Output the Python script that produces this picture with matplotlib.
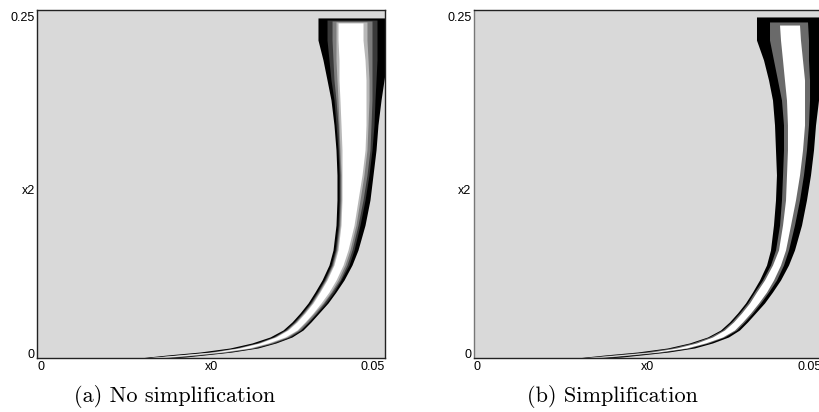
import matplotlib
matplotlib.use("Agg")
import matplotlib.pyplot as plt

# shared y levels (data units, top -> bottom)
Y_LEVELS = [0.2443, 0.2284, 0.2141, 0.1997, 0.1853, 0.1674, 0.1494, 0.1315, 0.1135, 0.0955, 0.0776, 0.0668, 0.0560,
            0.0474, 0.0395, 0.0323, 0.0259, 0.0201, 0.0151, 0.0108, 0.0072, 0.0043, 0.0022, 0.0007, 0.0]

# (a) no simplification: left / right x0 edge of each shaded layer at Y_LEVELS
A_BLACK_L = [0.04037, 0.04037, 0.04109, 0.04167, 0.04224, 0.04267, 0.04296, 0.04310, 0.04310, 0.04296, 0.04253, 0.04195, 0.04095,
             0.03994, 0.03894, 0.03779, 0.03664, 0.03534, 0.03348, 0.03089, 0.02773, 0.02342, 0.01882, 0.01595, 0.01480]
A_DGRAY_L = [0.04167, 0.04167, 0.04195, 0.04224, 0.04267, 0.04296, 0.04325, 0.04339, 0.04339, 0.04325, 0.04282, 0.04224, 0.04124,
             0.04023, 0.03922, 0.03807, 0.03693, 0.03563, 0.03391, 0.03147, 0.02845, 0.02457, 0.01983, 0.01652, 0.01509]
A_GRAY_L = [0.04239, 0.04239, 0.04253, 0.04267, 0.04296, 0.04325, 0.04339, 0.04353, 0.04353, 0.04339, 0.04296, 0.04239, 0.04138,
            0.04037, 0.03937, 0.03822, 0.03707, 0.03578, 0.03405, 0.03175, 0.02874, 0.02500, 0.02026, 0.01681, 0.01523]
A_LGRAY_L = [0.04296, 0.04296, 0.04296, 0.04310, 0.04325, 0.04339, 0.04353, 0.04368, 0.04368, 0.04353, 0.04310, 0.04253, 0.04152,
             0.04052, 0.03951, 0.03836, 0.03721, 0.03592, 0.03420, 0.03190, 0.02888, 0.02529, 0.02055, 0.01710, 0.01537]
A_WHITE_L = [0.04325, 0.04325, 0.04339, 0.04339, 0.04353, 0.04368, 0.04382, 0.04382, 0.04382, 0.04368, 0.04325, 0.04267, 0.04167,
             0.04066, 0.03966, 0.03851, 0.03736, 0.03606, 0.03434, 0.03204, 0.02917, 0.02557, 0.02083, 0.01739, 0.01552]
A_WHITE_R = [0.04684, 0.04684, 0.04713, 0.04727, 0.04727, 0.04727, 0.04713, 0.04670, 0.04612, 0.04555, 0.04468, 0.04397, 0.04296,
             0.04195, 0.04080, 0.03966, 0.03851, 0.03736, 0.03563, 0.03319, 0.03046, 0.02629, 0.02198, 0.01853, 0.01624]
A_LGRAY_R = [0.04741, 0.04741, 0.04756, 0.04770, 0.04770, 0.04756, 0.04741, 0.04698, 0.04641, 0.04583, 0.04497, 0.04425, 0.04325,
             0.04224, 0.04109, 0.03980, 0.03865, 0.03750, 0.03592, 0.03348, 0.03075, 0.02672, 0.02256, 0.01911, 0.01681]
A_GRAY_R = [0.04813, 0.04813, 0.04813, 0.04813, 0.04813, 0.04799, 0.04784, 0.04741, 0.04684, 0.04612, 0.04526, 0.04454, 0.04353,
            0.04239, 0.04124, 0.04009, 0.03894, 0.03779, 0.03606, 0.03376, 0.03103, 0.02716, 0.02299, 0.01968, 0.01739]
A_DGRAY_R = [0.04885, 0.04885, 0.04885, 0.04871, 0.04856, 0.04842, 0.04813, 0.04770, 0.04713, 0.04641, 0.04555, 0.04483, 0.04368,
             0.04267, 0.04152, 0.04023, 0.03908, 0.03793, 0.03635, 0.03405, 0.03132, 0.02759, 0.02356, 0.02026, 0.01796]
A_BLACK_R = [0.05043, 0.05043, 0.05029, 0.04986, 0.04943, 0.04899, 0.04871, 0.04828, 0.04784, 0.04713, 0.04612, 0.04526, 0.04411,
             0.04296, 0.04181, 0.04052, 0.03937, 0.03822, 0.03664, 0.03434, 0.03175, 0.02802, 0.02414, 0.02126, 0.01911]
A_TOPS = [0.2443, 0.2428, 0.2421, 0.2414, 0.2407]

# (b) simplification
B_BLACK_L = [0.04066, 0.04066, 0.04167, 0.04239, 0.04296, 0.04325, 0.04339, 0.04353, 0.04339, 0.04310, 0.04267, 0.04210, 0.04109,
             0.04009, 0.03908, 0.03793, 0.03678, 0.03549, 0.03362, 0.03103, 0.02787, 0.02356, 0.01897, 0.01609, 0.01494]
B_GRAY_L = [0.04253, 0.04253, 0.04310, 0.04368, 0.04425, 0.04454, 0.04454, 0.04440, 0.04425, 0.04397, 0.04339, 0.04267, 0.04152,
            0.04037, 0.03937, 0.03822, 0.03707, 0.03578, 0.03391, 0.03147, 0.02845, 0.02457, 0.01983, 0.01652, 0.01509]
B_WHITE_L = [0.04397, 0.04411, 0.04440, 0.04468, 0.04497, 0.04511, 0.04511, 0.04497, 0.04483, 0.04440, 0.04382, 0.04296, 0.04181,
             0.04066, 0.03966, 0.03851, 0.03736, 0.03606, 0.03434, 0.03204, 0.02917, 0.02557, 0.02083, 0.01739, 0.01552]
B_WHITE_R = [0.04684, 0.04698, 0.04727, 0.04756, 0.04756, 0.04756, 0.04727, 0.04684, 0.04626, 0.04555, 0.04483, 0.04411, 0.04310,
             0.04210, 0.04095, 0.03980, 0.03865, 0.03750, 0.03578, 0.03333, 0.03060, 0.02644, 0.02213, 0.01868, 0.01638]
B_GRAY_R = [0.04799, 0.04813, 0.04813, 0.04828, 0.04828, 0.04813, 0.04784, 0.04741, 0.04684, 0.04612, 0.04526, 0.04454, 0.04353,
            0.04239, 0.04124, 0.04009, 0.03894, 0.03779, 0.03606, 0.03376, 0.03103, 0.02716, 0.02299, 0.01968, 0.01739]
B_BLACK_R = [0.05014, 0.05014, 0.05000, 0.04986, 0.04957, 0.04914, 0.04885, 0.04842, 0.04784, 0.04713, 0.04612, 0.04526, 0.04411,
             0.04296, 0.04181, 0.04052, 0.03937, 0.03822, 0.03664, 0.03434, 0.03175, 0.02802, 0.02414, 0.02126, 0.01911]
B_TOPS = [0.2450, 0.2414, 0.2392]

X_TICK_LABELS = ["0", "0.05"]
Y_TICK_LABELS = ["0", "0.25"]
CAPTIONS = ["(a) No simplification", "(b) Simplification"]

A_LAYERS = [(A_BLACK_L, A_BLACK_R, "#000000"), (A_DGRAY_L, A_DGRAY_R, "#3a3a3a"),
            (A_GRAY_L, A_GRAY_R, "#7c7c7c"), (A_LGRAY_L, A_LGRAY_R, "#b8b8b8"),
            (A_WHITE_L, A_WHITE_R, "#ffffff")]
B_LAYERS = [(B_BLACK_L, B_BLACK_R, "#000000"), (B_GRAY_L, B_GRAY_R, "#6a6a6a"),
            (B_WHITE_L, B_WHITE_R, "#ffffff")]


def draw_panel(ax, layers, tops):
    ax.set_facecolor("#d9d9d9")
    for (left, right, color), top in zip(layers, tops):
        ys = [top] + Y_LEVELS[1:]
        ax.fill_betweenx(ys, left, right, color=color, lw=0)
    ax.set_xlim(0, 0.05)
    ax.set_ylim(0, 0.25)
    ax.set_xticks([])
    ax.set_yticks([])
    for s in ax.spines.values():
        s.set_color("#222222")
        s.set_linewidth(1.0)
    kw = dict(transform=ax.transAxes, fontsize=9, family="Liberation Sans")
    ax.text(0.0, -0.01, X_TICK_LABELS[0], ha="left", va="top", **kw)
    ax.text(1.0, -0.01, X_TICK_LABELS[1], ha="right", va="top", **kw)
    ax.text(0.5, -0.01, "x0", ha="center", va="top", **kw)
    ax.text(-0.006, 0.0, Y_TICK_LABELS[0], ha="right", va="baseline", **kw)
    ax.text(-0.006, 0.995, Y_TICK_LABELS[1], ha="right", va="top", **kw)
    ax.text(-0.006, 0.48, "x2", ha="right", va="center", **kw)


fig = plt.figure(figsize=(8.19, 4.12), dpi=100)
ax1 = fig.add_axes([37 / 819, 54 / 412, 348 / 819, 348 / 412])
ax2 = fig.add_axes([473.5 / 819, 54 / 412, 348 / 819, 348 / 412])
draw_panel(ax1, A_LAYERS, A_TOPS)
draw_panel(ax2, B_LAYERS, B_TOPS)
ax2.spines["left"].set_color("#777777")

fig.text(175 / 819, 15 / 412, CAPTIONS[0], ha="center", va="center", fontsize=16, family="cmr10")
fig.text(612 / 819, 15 / 412, CAPTIONS[1], ha="center", va="center", fontsize=16, family="cmr10")

fig.savefig("out.png", dpi=100)
